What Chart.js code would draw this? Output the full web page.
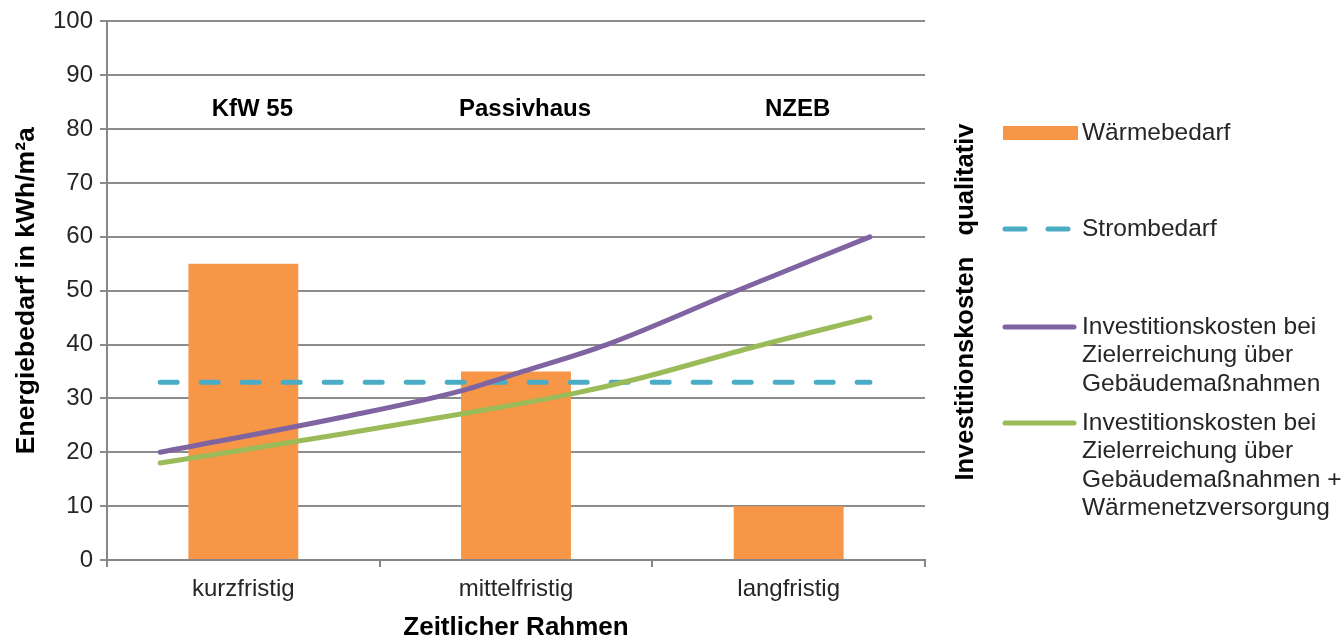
<!DOCTYPE html>
<html lang="de">
<head>
<meta charset="utf-8">
<title>Energiebedarf und Investitionskosten</title>
<script src="https://cdn.jsdelivr.net/npm/chart.js@4.4.1/dist/chart.umd.min.js"></script>
<style>
	html, body { margin: 0; padding: 0; background: #ffffff; }
	#wrap { width: 1342px; height: 641px; }
</style>
</head>
<body>
<div id="wrap"><canvas id="chart" width="1342" height="641"></canvas></div>
<script>
// Kategorien der x-Achse und Beschriftungen über den Balken.
const kategorien = [ "kurzfristig", "mittelfristig", "langfristig" ];
const standards = [ "KfW 55", "Passivhaus", "NZEB" ];

// Balken : Wärmebedarf in kWh/m²a.
const waermebedarf = [ 55, 35, 10 ];

// Linien : x in Kategorie-Einheiten (0 = kurzfristig, 1 = mittelfristig, 2 = langfristig).
const strom_x = [ -0.305, 2.298 ];
const strom_y = [ 33, 33 ];

const invest_geb_x = [ -0.305, 0.362, 0.798, 1.025, 1.333, 1.810, 2.298 ];
const invest_geb_y = [ 20, 26.5, 31.4, 35, 40, 50, 60 ];

const invest_netz_x = [ -0.305, 0.362, 0.798, 1.201, 1.443, 1.876, 2.298 ];
const invest_netz_y = [ 18, 23.4, 27.1, 30.8, 33.6, 39.6, 45 ];

// Legende (mehrzeilige Einträge).
const legende = [
	{ text: [ "Wärmebedarf" ], color: "#f79646", kind: "box", y: 133 },
	{ text: [ "Strombedarf" ], color: "#4bacc6", kind: "dash", y: 229 },
	{ text: [ "Investitionskosten bei", "Zielerreichung über", "Gebäudemaßnahmen" ], color: "#8064a2", kind: "line", y: 327 },
	{ text: [ "Investitionskosten bei", "Zielerreichung über", "Gebäudemaßnahmen +", "Wärmenetzversorgung" ], color: "#9bbb59", kind: "line", y: 423 }
];

const punkte = ( xs, ys ) => xs.map( ( x, i ) => ( { x: x, y: ys[ i ] } ) );

const schrift = "Liberation Sans, Arial, sans-serif";
const text_farbe = "#262626";

// Zusätzliche Texte : Standards, rechte Achsenbeschriftung und Legende.
const extras = {
	id: "extras",
	afterDraw( chart )
	{
		const ctx = chart.ctx;
		const x = chart.scales.x;
		const y = chart.scales.y;

		ctx.save();
		ctx.fillStyle = "#000000";
		ctx.textAlign = "center";
		ctx.textBaseline = "middle";
		ctx.font = "bold 24px " + schrift;
		standards.forEach( ( s, i ) => ctx.fillText( s, x.getPixelForValue( i ) + 9, y.getPixelForValue( 83.6 ) ) );

		// Rechte Achse : nur der Titel.
		ctx.save();
		ctx.translate( 966, 302 );
		ctx.rotate( -Math.PI / 2 );
		ctx.font = "bold 25.5px " + schrift;
		ctx.fillText( "Investitionskosten   qualitativ", 0, 0 );
		ctx.restore();

		// Legende.
		ctx.textAlign = "left";
		ctx.font = "24.5px " + schrift;
		legende.forEach( ( item ) =>
		{
			ctx.fillStyle = item.color;
			ctx.strokeStyle = item.color;
			ctx.lineCap = "round";
			ctx.lineWidth = 5;
			if ( item.kind === "box" )
			{
				ctx.fillRect( 1003, item.y - 7, 75, 14 );
			}
			else if ( item.kind === "dash" )
			{
				ctx.beginPath();
				ctx.moveTo( 1005, item.y ); ctx.lineTo( 1025, item.y );
				ctx.moveTo( 1048, item.y ); ctx.lineTo( 1068, item.y );
				ctx.stroke();
			}
			else
			{
				ctx.beginPath();
				ctx.moveTo( 1005, item.y ); ctx.lineTo( 1074, item.y );
				ctx.stroke();
			}
			ctx.fillStyle = text_farbe;
			item.text.forEach( ( zeile, j ) => ctx.fillText( zeile, 1082, item.y + j * 28.5 ) );
		} );
		ctx.restore();
	}
};

new Chart( document.getElementById( "chart" ),
	{
		type: "bar",
		data: {
			labels: kategorien,
			datasets: [
				{
					type: "bar",
					label: "Wärmebedarf",
					data: waermebedarf,
					backgroundColor: "#f79646",
					grouped: false,
					categoryPercentage: 1,
					barPercentage: 0.403,
					order: 3
				},
				{
					type: "line",
					label: "Strombedarf",
					xAxisID: "x2",
					data: punkte( strom_x, strom_y ),
					borderColor: "#4bacc6",
					borderWidth: 5,
					borderDash: [ 17, 24 ],
					borderCapStyle: "round",
					pointRadius: 0,
					order: 2
				},
				{
					type: "line",
					label: "Investitionskosten bei Zielerreichung über Gebäudemaßnahmen",
					xAxisID: "x2",
					data: punkte( invest_geb_x, invest_geb_y ),
					borderColor: "#8064a2",
					borderWidth: 5,
					borderCapStyle: "round",
					cubicInterpolationMode: "monotone",
					pointRadius: 0,
					order: 1
				},
				{
					type: "line",
					label: "Investitionskosten bei Zielerreichung über Gebäudemaßnahmen + Wärmenetzversorgung",
					xAxisID: "x2",
					data: punkte( invest_netz_x, invest_netz_y ),
					borderColor: "#9bbb59",
					borderWidth: 5,
					borderCapStyle: "round",
					cubicInterpolationMode: "monotone",
					pointRadius: 0,
					order: 0
				}
			]
		},
		options: {
			responsive: false,
			animation: false,
			layout: { padding: { top: 18, right: 417, left: 0, bottom: 0 } },
			plugins: {
				legend: { display: false },
				tooltip: { enabled: false }
			},
			scales: {
				x: {
					type: "category",
					offset: true,
					afterFit: ( scale ) => { scale.height = 81; },
					grid: {
						offset: true,
						drawOnChartArea: false,
						tickLength: 7,
						color: "#868686",
						lineWidth: 2
					},
					border: { color: "#868686", width: 2 },
					ticks: {
						color: text_farbe,
						padding: 8,
						font: { size: 24, family: schrift }
					},
					title: {
						display: true,
						text: "Zeitlicher Rahmen",
						color: "#000000",
						padding: { top: 0, bottom: 0 },
						font: { size: 26, weight: "bold", family: schrift, lineHeight: 1 }
					}
				},
				x2: {
					type: "linear",
					display: false,
					offset: false,
					grid: { offset: false },
					min: -0.5,
					max: 2.5
				},
				y: {
					min: 0,
					max: 100,
					afterFit: ( scale ) => { scale.width = 107; },
					grid: {
						color: "#8c8c8c",
						lineWidth: 2,
						tickLength: 7
					},
					border: { color: "#868686", width: 2 },
					ticks: {
						stepSize: 10,
						color: text_farbe,
						padding: 7,
						font: { size: 24, family: schrift }
					},
					title: {
						display: true,
						text: "Energiebedarf in kWh/m²a",
						color: "#000000",
						padding: { top: 11, bottom: 0 },
						font: { size: 26.5, weight: "bold", family: schrift }
					}
				}
			}
		},
		plugins: [ extras ]
	} );
</script>
</body>
</html>
